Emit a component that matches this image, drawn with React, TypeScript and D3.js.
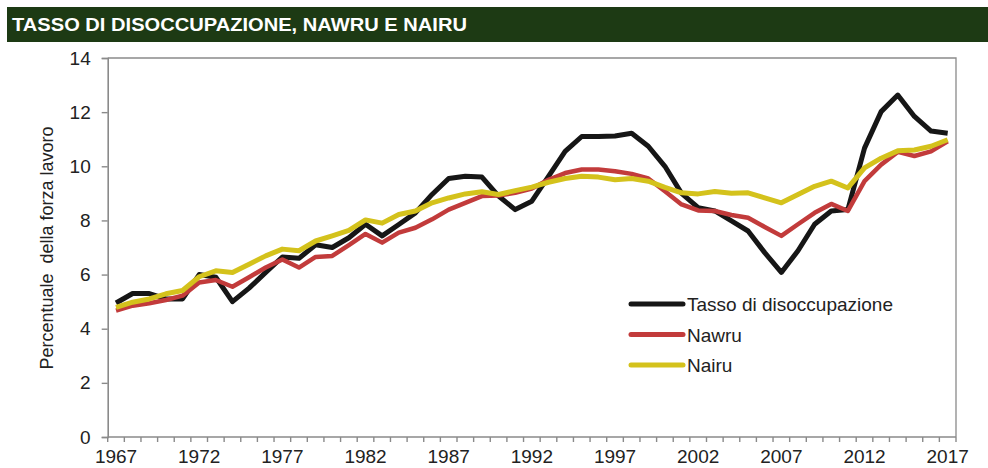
import React, { useEffect, useRef } from 'react'
import * as d3 from 'd3'

const years = d3.range(1967, 2018)

const tasso = [
  4.95, 5.3, 5.3, 5.1, 5.1, 6.0, 5.9, 5.0, 5.5, 6.08,
  6.65, 6.6, 7.1, 7.0, 7.36, 7.86, 7.43, 7.85, 8.28, 8.96,
  9.55, 9.63, 9.6, 8.9, 8.4, 8.71, 9.63, 10.55, 11.1, 11.1,
  11.12, 11.22, 10.74, 10.0, 9.0, 8.47, 8.35, 7.98, 7.61, 6.81,
  6.08, 6.88, 7.86, 8.35, 8.4, 10.67, 12.02, 12.63, 11.84, 11.3,
  11.22,
]

const nawru = [
  4.67, 4.85, 4.94, 5.06, 5.22, 5.71, 5.8, 5.55, 5.9, 6.26,
  6.56, 6.26, 6.65, 6.69, 7.09, 7.5, 7.18, 7.55, 7.73, 8.04,
  8.4, 8.65, 8.9, 8.92, 9.02, 9.18, 9.5, 9.75, 9.88, 9.88,
  9.82, 9.72, 9.55, 9.08, 8.59, 8.37, 8.35, 8.2, 8.1, 7.76,
  7.43, 7.86, 8.28, 8.61, 8.35, 9.45, 10.06, 10.53, 10.38, 10.55,
  10.92,
]

const nairu = [
  4.79, 4.98, 5.1, 5.29, 5.41, 5.92, 6.14, 6.08, 6.38, 6.69,
  6.94, 6.88, 7.24, 7.43, 7.63, 8.02, 7.9, 8.22, 8.35, 8.65,
  8.83, 8.98, 9.06, 8.96, 9.1, 9.23, 9.41, 9.55, 9.63, 9.6,
  9.5, 9.55, 9.45, 9.22, 9.02, 8.98, 9.07, 9.0, 9.02, 8.83,
  8.65, 8.96, 9.26, 9.45, 9.2, 9.94, 10.3, 10.57, 10.6, 10.74,
  10.98,
]

const yTicks = [0, 2, 4, 6, 8, 10, 12, 14]
const xLabels = [1967, 1972, 1977, 1982, 1987, 1992, 1997, 2002, 2007, 2012, 2017]

const seriesNames = ['Tasso di disoccupazione', 'Nawru', 'Nairu']
const seriesColors = ['#161616', '#c23b3b', '#d4c21c']

const App = () => {
  const ref = useRef<SVGSVGElement>(null)

  useEffect(() => {
    const svg = d3.select(ref.current)
    svg.selectAll('*').remove()

    const left = 107.7
    const right = 956
    const top = 58
    const bottom = 437
    const font = 'Liberation Sans, Arial, sans-serif'

    // title bar
    svg.append('rect').attr('x', 7).attr('y', 7).attr('width', 981).attr('height', 35).attr('fill', '#1d3a14')
    svg
      .append('text')
      .attr('x', 12)
      .attr('y', 31)
      .attr('fill', '#fff')
      .attr('font-family', font)
      .attr('font-weight', 'bold')
      .attr('font-size', 17.5)
      .attr('textLength', 455)
      .attr('lengthAdjust', 'spacingAndGlyphs')
      .text('TASSO DI DISOCCUPAZIONE, NAWRU E NAIRU')

    const x = d3.scaleBand<number>().domain(years).range([left, right]).padding(0)
    const y = d3.scaleLinear().domain([0, 14]).range([bottom, top])
    const cx = (yr: number) => (x(yr) as number) + x.bandwidth() / 2

    // frame top + right
    svg
      .append('path')
      .attr('d', `M${left},${top}H${right}V${bottom}`)
      .attr('fill', 'none')
      .attr('stroke', '#8a8a8a')
      .attr('stroke-width', 1.3)

    // y axis
    const yAxis = svg
      .append('g')
      .attr('transform', `translate(${left},0)`)
      .call(d3.axisLeft(y).tickValues(yTicks).tickSize(6).tickPadding(11))
    yAxis.select('.domain').attr('stroke', '#8a8a8a').attr('stroke-width', 1.6)
    yAxis.selectAll('.tick line').attr('stroke', '#8a8a8a').attr('stroke-width', 1.4)
    yAxis.selectAll('.tick text').attr('font-family', font).attr('font-size', 19).attr('fill', '#222')

    // x axis: ticks between categories
    const xAxis = svg.append('g').attr('transform', `translate(0,${bottom})`)
    xAxis
      .append('line')
      .attr('x1', left)
      .attr('x2', right)
      .attr('stroke', '#8a8a8a')
      .attr('stroke-width', 1.6)
    xAxis
      .selectAll('line.tk')
      .data([...years.map((d) => x(d) as number), right])
      .join('line')
      .attr('class', 'tk')
      .attr('x1', (d) => d)
      .attr('x2', (d) => d)
      .attr('y1', 0)
      .attr('y2', 5)
      .attr('stroke', '#8a8a8a')
      .attr('stroke-width', 1.4)
    xAxis
      .selectAll('text')
      .data(xLabels)
      .join('text')
      .attr('x', (d) => cx(d))
      .attr('y', 26)
      .attr('text-anchor', 'middle')
      .attr('font-family', font)
      .attr('font-size', 19)
      .attr('fill', '#222')
      .text((d) => d)

    // y label
    svg
      .append('text')
      .attr('transform', `translate(53,248) rotate(-90)`)
      .attr('text-anchor', 'middle')
      .attr('font-family', font)
      .attr('font-size', 18)
      .attr('fill', '#222')
      .attr('xml:space', 'preserve')
      .style('white-space', 'pre')
      .text('Percentuale  della forza lavoro')

    const line = d3
      .line<number>()
      .x((_, i) => cx(years[i]))
      .y((d) => y(d))

    const data = [tasso, nawru, nairu]
    const widths = [5, 4.5, 5]
    data.forEach((vals, i) => {
      svg
        .append('path')
        .datum(vals)
        .attr('d', line)
        .attr('fill', 'none')
        .attr('stroke', seriesColors[i])
        .attr('stroke-width', widths[i])
        .attr('stroke-linejoin', 'round')
    })

    // legend
    const leg = svg.append('g')
    seriesNames.forEach((name, i) => {
      const ly = 304 + i * 30.5
      leg
        .append('line')
        .attr('x1', 631)
        .attr('x2', 683)
        .attr('y1', ly)
        .attr('y2', ly)
        .attr('stroke', seriesColors[i])
        .attr('stroke-width', 5)
        .attr('stroke-linecap', 'round')
      leg
        .append('text')
        .attr('x', 687)
        .attr('y', ly + 7)
        .attr('font-family', font)
        .attr('font-size', 19)
        .attr('fill', '#222')
        .text(name)
    })
  }, [])

  return (
    <svg
      ref={ref}
      width={988}
      height={468}
      style={{ position: 'absolute', left: 0, top: 0, background: '#fff' }}
    />
  )
}

export default App
